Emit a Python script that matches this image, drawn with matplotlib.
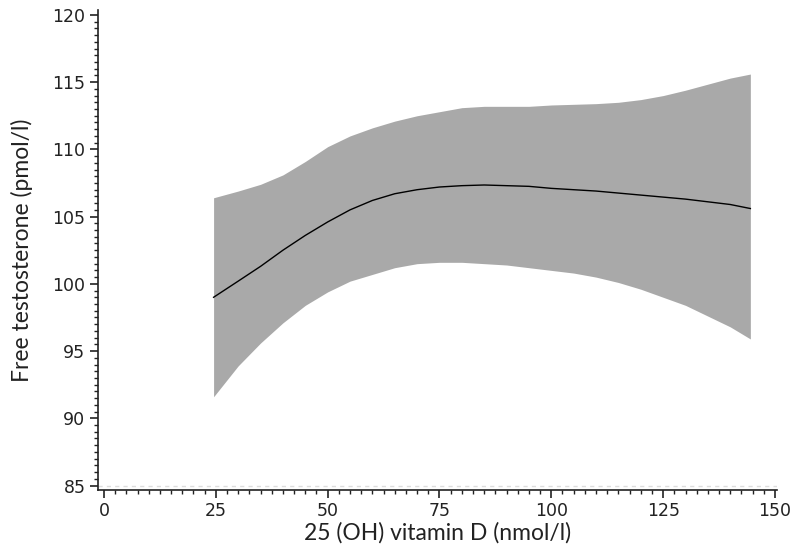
import matplotlib.pyplot as plt
from matplotlib.ticker import MultipleLocator

# values
vitd = [24.5, 30, 35, 40, 45, 50, 55, 60, 65, 70, 75, 80, 85, 90, 95,
        100, 105, 110, 115, 120, 125, 130, 135, 140, 144.5]
fit = [99.0, 100.2, 101.3, 102.5, 103.6, 104.6, 105.5, 106.2, 106.7, 107.0,
       107.2, 107.3, 107.35, 107.3, 107.25, 107.1, 107.0, 106.9, 106.75, 106.6,
       106.45, 106.3, 106.1, 105.9, 105.6]
upper = [106.4, 106.9, 107.4, 108.1, 109.1, 110.2, 111.0, 111.6, 112.1, 112.5,
         112.8, 113.1, 113.2, 113.2, 113.2, 113.3, 113.35, 113.4, 113.5, 113.7,
         114.0, 114.4, 114.85, 115.3, 115.6]
lower = [91.6, 93.9, 95.6, 97.1, 98.4, 99.4, 100.2, 100.7, 101.2, 101.5,
         101.6, 101.6, 101.5, 101.4, 101.2, 101.0, 100.8, 100.5, 100.1, 99.6,
         99.0, 98.4, 97.6, 96.8, 95.9]
xticks = [0, 25, 50, 75, 100, 125, 150]
yticks = [85, 90, 95, 100, 105, 110, 115, 120]

fig = plt.figure(figsize=(8, 5.51), dpi=100)
ax = fig.add_axes([0.1225, 0.111, 0.849, 0.871])

ax.fill_between(vitd, lower, upper, color='#a9a9a9', linewidth=0)
ax.plot(vitd, fit, color='black', linewidth=1)
ax.axhline(85, color='#dddddd', linewidth=1, linestyle=(0, (3, 3)))

ax.set_xlim(-1.34, 150.5)
ax.set_ylim(84.68, 120.37)
ax.set_xticks(xticks)
ax.set_yticks(yticks)
ax.xaxis.set_minor_locator(MultipleLocator(2.5))
ax.yaxis.set_minor_locator(MultipleLocator(0.5))

for s in ['top', 'right']:
    ax.spines[s].set_visible(False)
for s in ['left', 'bottom']:
    ax.spines[s].set_linewidth(1.2)
    ax.spines[s].set_color('#222222')

ax.tick_params(which='major', direction='out', length=6, width=1.2,
               labelsize=12.5, pad=3, colors='#222222')
ax.tick_params(which='minor', direction='out', length=3, width=1, colors='#222222')
for lab in ax.get_xticklabels() + ax.get_yticklabels():
    lab.set_family('DejaVu Sans')

ax.set_xlabel('25 (OH) vitamin D (nmol/l)', fontsize=16.5, family='Lato',
              color='#222222', labelpad=1)
ax.set_ylabel('Free testosterone (pmol/l)', fontsize=16.5, family='Lato',
              color='#222222', labelpad=14)

plt.savefig('out.png', dpi=100)
